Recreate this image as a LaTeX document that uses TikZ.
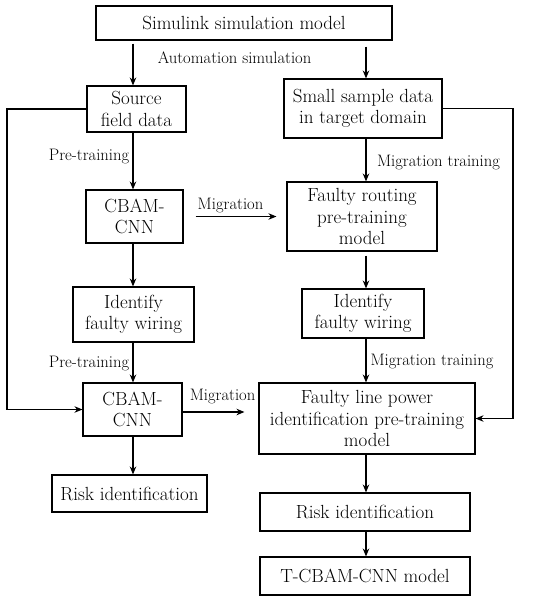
\documentclass[tikz,border=0pt]{standalone}
\usetikzlibrary{arrows.meta,calc}
\begin{document}
\begin{tikzpicture}[x=1pt,y=-1pt,
  box/.style={draw,line width=1.1pt,align=center,inner sep=0pt,font=\fontsize{19}{21.5}\selectfont},
  lbl/.style={font=\fontsize{16.6}{18}\selectfont,inner sep=0pt},
  arr/.style={line width=1.1pt,-{Stealth[length=8pt,width=6.5pt]}},
  ln/.style={line width=1.1pt}]
\useasboundingbox (0,0) rectangle (550,603);
\node[box,minimum width=296pt,minimum height=34pt] (sim) at (244,23) {Simulink simulation model};
\node[box,minimum width=99pt,minimum height=46pt] (src) at (136.5,109) {Source\\field data};
\node[box,minimum width=158pt,minimum height=59pt] (small) at (363,108.5) {Small sample data\\in target domain};
\node[box,minimum width=97pt,minimum height=53pt] (cb1) at (134.5,216.5) {CBAM-\\CNN};
\node[box,minimum width=150pt,minimum height=69pt] (fr) at (362,216.5) {Faulty routing\\pre-training\\model};
\node[box,minimum width=121pt,minimum height=55pt] (id1) at (133.5,314.5) {Identify\\faulty wiring};
\node[box,minimum width=122pt,minimum height=49pt] (id2) at (363,313.5) {Identify\\faulty wiring};
\node[box,minimum width=99pt,minimum height=53pt] (cb2) at (132.5,409.5) {CBAM-\\CNN};
\node[box,minimum width=216pt,minimum height=71pt] (fl) at (367,418.5) {Faulty line power\\identification pre-training\\model};
\node[box,minimum width=155pt,minimum height=37pt] (r1) at (129.5,493.5) {Risk identification};
\node[box,minimum width=210pt,minimum height=38pt] (r2) at (365,512) {Risk identification};
\node[box,minimum width=210pt,minimum height=38pt] (tc) at (365,576) {T-CBAM-CNN model};
\coordinate (cL) at (133,0);
\coordinate (cR) at (366,0);
\coordinate (lx) at (7,0);
\coordinate (rx) at (513,0);
% left column
\draw[arr,shorten <=3pt] (sim.south -| cL) -- (src.north -| cL);
\draw[arr] (src.south -| cL) -- (cb1.north -| cL);
\draw[arr] (cb1.south -| cL) -- (id1.north -| cL);
\draw[arr] (id1.south -| cL) -- (cb2.north -| cL);
\draw[arr] (cb2.south -| cL) -- (r1.north -| cL);
% right column
\draw[arr,shorten <=6pt] (sim.south -| cR) -- (small.north -| cR);
\draw[arr] (small.south -| cR) -- (fr.north -| cR);
\draw[arr,shorten <=4pt] (fr.south -| cR) -- (id2.north -| cR);
\draw[arr] (id2.south -| cR) -- (fl.north -| cR);
\draw[arr] (fl.south -| cR) -- (r2.north -| cR);
\draw[arr] (r2.south -| cR) -- (tc.north -| cR);
% side loops
\draw[arr] (src.west) -- (src.west -| lx) -- (cb2.west -| lx) -- (cb2.west);
\draw[arr] (small.east) -- (small.east -| rx) -- (fl.east -| rx) -- (fl.east);
% migration
\draw[arr,shorten <=12pt,shorten >=10pt] (cb1.east) -- (cb1.east -| fr.west);
\draw[arr,shorten >=14pt] ([yshift=-2.5pt]cb2.east) -- ([yshift=-2.5pt]cb2.east -| fl.west);
% labels
\node[lbl] (l1) at (234.5,58) {Automation simulation};
\node[lbl] (l2) at (89,157) {Pre-training};
\node[lbl] (l3) at (89,364) {Pre-training};
\node[lbl] (l4) at (438.5,163) {Migration training};
\node[lbl] (l5) at (432,362) {Migration training};
\node[lbl] (l6) at (230.5,206) {Migration};
\node[lbl] (l7) at (222.5,397) {Migration};
\end{tikzpicture}
\end{document}
